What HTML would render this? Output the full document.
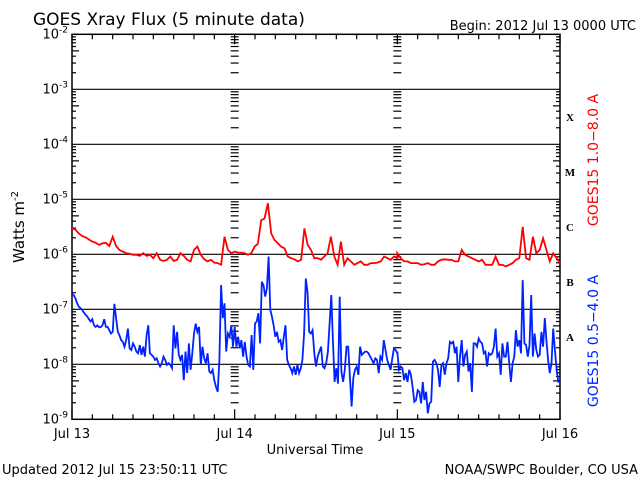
<!DOCTYPE html>
<html><head><meta charset="utf-8"><style>
body{margin:0;background:#fff}
svg{display:block;font-family:"DejaVu Sans","Liberation Sans",sans-serif}
</style></head><body>
<svg id="chart" width="640" height="480" viewBox="0 0 640 480" xmlns="http://www.w3.org/2000/svg">
<rect width="640" height="480" fill="#fff"/>
<text x="33" y="25" font-size="17" fill="#000">GOES Xray Flux (5 minute data)</text>
<text x="636" y="30" font-size="13" text-anchor="end" fill="#000">Begin:  2012 Jul 13 0000 UTC</text>
<text transform="translate(24,227) rotate(-90)" font-size="15" text-anchor="middle" fill="#000">Watts m<tspan dy="-6" font-size="10">-2</tspan></text>
<text x="315" y="454" font-size="13" text-anchor="middle" fill="#000">Universal Time</text>
<text x="2" y="474" font-size="13" fill="#000">Updated 2012 Jul 15 23:50:11 UTC</text>
<text x="638" y="474" font-size="13" text-anchor="end" fill="#000">NOAA/SWPC Boulder, CO USA</text>
<text transform="translate(598,160) rotate(-90)" font-size="14" text-anchor="middle" fill="#ff0000">GOES15 1.0−8.0 A</text>
<text transform="translate(598,341) rotate(-90)" font-size="14" text-anchor="middle" fill="#0022ff">GOES15 0.5−4.0 A</text>
<g id="grid"></g>
<g id="series"></g>
</svg>
<script>
const dayLabels=["Jul 13","Jul 14","Jul 15","Jul 16"];
const decades=[-2,-3,-4,-5,-6,-7,-8,-9];
const classLetters=["X","M","C","B","A"];
const classExps=[-4,-5,-6,-7,-8];
// log10 flux, each day's array spans 24 h evenly
const redDay1=[-5.53,-5.55,-5.62,-5.67,-5.69,-5.73,-5.77,-5.79,-5.83,-5.80,-5.79,-5.85,-5.68,-5.85,-5.92,-5.95,-5.98,-5.99,-6.01,-6.01,-6.03,-5.98,-6.03,-6.01,-6.07,-5.98,-6.10,-6.12,-6.10,-6.04,-6.12,-6.10,-5.98,-6.03,-6.10,-6.13,-5.92,-5.86,-6.01,-6.09,-6.13,-6.10,-6.15,-6.16,-6.19,-5.68,-5.92,-5.98,-5.95];
const redDay2=[-5.95,-5.97,-5.97,-5.98,-6.01,-5.98,-5.86,-5.81,-5.38,-5.35,-5.07,-5.62,-5.74,-5.80,-5.86,-5.89,-6.04,-6.07,-6.09,-6.13,-6.10,-5.53,-5.83,-5.92,-6.07,-6.07,-6.10,-6.04,-5.98,-5.68,-6.04,-6.19,-5.77,-6.19,-6.07,-6.13,-6.19,-6.16,-6.13,-6.19,-6.19,-6.16,-6.16,-6.15,-6.13,-6.04,-6.07,-6.10,-6.04,-6.07];
const redDay3=[-5.98,-6.07,-6.13,-6.13,-6.16,-6.16,-6.16,-6.19,-6.18,-6.16,-6.19,-6.19,-6.13,-6.10,-6.09,-6.10,-6.10,-6.13,-6.13,-5.92,-6.01,-6.04,-6.07,-6.10,-6.13,-6.10,-6.19,-6.19,-6.19,-6.04,-6.19,-6.19,-6.22,-6.19,-6.16,-6.10,-6.07,-5.50,-6.07,-6.10,-5.68,-5.98,-5.92,-5.71,-5.92,-6.13,-5.98,-6.07,-6.16];
const blueDay1=[-6.73,-6.74,-6.80,-6.89,-6.95,-6.98,-7.01,-7.06,-7.10,-7.13,-7.18,-7.22,-7.18,-7.29,-7.32,-7.29,-7.33,-7.32,-7.29,-7.18,-7.32,-7.32,-7.38,-7.44,-7.41,-6.90,-7.16,-7.41,-7.47,-7.56,-7.59,-7.68,-7.56,-7.35,-7.71,-7.74,-7.62,-7.68,-7.77,-7.80,-7.65,-7.83,-7.68,-7.86,-7.47,-7.29,-7.80,-7.83,-7.86,-7.92,-7.89,-7.98,-8.04,-7.98,-7.86,-7.92,-8.01,-7.98,-8.01,-8.07,-7.29,-7.71,-7.41,-7.83,-7.92,-7.83,-8.29,-7.77,-8.16,-7.62,-8.10,-7.80,-7.44,-7.26,-7.41,-7.32,-8.01,-7.68,-7.89,-7.98,-7.80,-8.13,-8.16,-8.10,-8.29,-8.41,-8.50,-7.92,-6.56,-7.16,-6.89,-7.77,-7.44,-7.50,-7.29,-7.68,-7.32];
const blueDay2=[-7.32,-7.68,-7.50,-7.71,-7.56,-7.86,-7.59,-7.86,-8.01,-8.04,-7.47,-8.10,-7.26,-7.22,-7.07,-7.62,-6.50,-6.56,-6.77,-6.62,-6.04,-7.01,-7.13,-7.29,-7.50,-7.41,-7.59,-7.56,-7.74,-7.50,-7.29,-7.92,-8.01,-8.07,-8.16,-8.04,-8.19,-8.01,-8.16,-8.07,-7.92,-7.44,-6.44,-6.68,-7.41,-7.44,-7.38,-7.80,-8.04,-7.86,-7.77,-7.68,-8.04,-8.07,-7.98,-7.77,-7.26,-6.74,-7.56,-8.32,-8.07,-8.35,-6.77,-8.13,-8.32,-8.10,-7.68,-7.68,-8.22,-8.77,-8.25,-8.10,-8.04,-8.19,-7.68,-7.83,-7.80,-7.77,-7.77,-7.80,-7.86,-7.92,-7.98,-7.89,-7.92,-8.16,-7.86,-7.92,-7.56,-7.74,-7.92,-8.01,-8.10,-7.89,-7.71,-7.74,-7.80];
const blueDay3=[-7.77,-8.10,-8.04,-8.07,-8.29,-8.16,-8.32,-8.10,-8.19,-8.41,-8.68,-8.65,-8.47,-8.50,-8.71,-8.32,-8.65,-8.50,-8.89,-8.71,-8.68,-7.95,-7.92,-7.98,-8.10,-8.41,-8.01,-7.98,-8.19,-7.98,-7.89,-7.59,-7.62,-7.59,-7.80,-7.68,-8.32,-7.86,-7.56,-8.04,-7.83,-7.77,-8.13,-7.98,-8.50,-7.62,-7.62,-7.68,-7.53,-7.59,-7.62,-7.80,-7.77,-8.04,-7.80,-7.83,-7.80,-7.68,-7.35,-7.86,-7.80,-8.19,-7.62,-7.86,-7.86,-7.59,-7.98,-8.32,-7.98,-7.86,-7.38,-7.68,-7.56,-7.80,-6.47,-7.62,-7.65,-7.86,-7.65,-6.74,-7.86,-7.44,-7.74,-7.86,-7.83,-7.41,-7.68,-7.16,-7.56,-7.92,-8.16,-7.98,-7.35,-7.74,-8.10,-8.32,-8.32];

const NS="http://www.w3.org/2000/svg";
const X0=72,X1=560,Y0=34.3,DEC=55;
const xs=h=>X0+(X1-X0)*h/72;
const ys=l=>Y0+(-2-l)*DEC;
const grid=document.getElementById('grid'),ser=document.getElementById('series');
function mk(tag,attrs,parent){const e=document.createElementNS(NS,tag);for(const k in attrs)e.setAttribute(k,attrs[k]);parent.appendChild(e);return e;}
function ln(x1,y1,x2,y2,p){return mk('line',{x1:x1,y1:y1,x2:x2,y2:y2,stroke:'#000','stroke-width':1.2},p);}
const fr=mk('rect',{x:X0,y:Y0,width:X1-X0,height:ys(-9)-Y0,fill:'none',stroke:'#000','stroke-width':1.5},grid);


decades.forEach(d=>{
  const y=ys(d);
  if(d<-2&&d>-9){const l=ln(X0,y,X1,y,grid);
    
    }
  const t=mk('text',{x:X0-4,y:y+4,'font-size':13,'text-anchor':'end',fill:'#000'},grid);
  
  
  t.innerHTML='10<tspan dy="-6" font-size="9">'+d+'</tspan>';
  if(d>-9){for(let m=2;m<=9;m++){const yy=y+DEC*(1-Math.log10(m));
    const w=m==5?7:4;
    ln(X0,yy,X0+w,yy,grid);ln(X1-w,yy,X1,yy,grid);
    [1,2].forEach(k=>{const xd=xs(24*k);ln(xd-4,yy,xd+4,yy,grid);});}}
});
for(let h=0;h<=72;h+=3){const x=xs(h),yb=ys(-9);const L=h%24==0?10:5;
  ln(x,yb,x,yb-L,grid);ln(x,Y0,x,Y0+L,grid);}
dayLabels.forEach((s,i)=>{const t=mk('text',{x:xs(24*i),y:438,'font-size':13,'text-anchor':'middle',fill:'#000'},grid);
  
  
  t.textContent=s;});
classLetters.forEach((c,i)=>{const t=mk('text',{x:570,y:ys(classExps[i]+1)+DEC/2+4,'font-size':11,'font-weight':'bold','font-family':'Liberation Serif,serif','text-anchor':'middle',fill:'#000'},grid);
  
  
  t.textContent=c;});
function series(days,color,name){
  let d='';let first=true;
  days.forEach((arr,di)=>{arr.forEach((v,i)=>{const h=di*24+24*i/(arr.length-1);
    d+=(first?'M':'L')+xs(h).toFixed(1)+' '+ys(v).toFixed(1);first=false;});});
  const p=mk('path',{d:d,fill:'none',stroke:color,'stroke-width':1.8,'stroke-linejoin':'miter'},ser);
  
  
}
series([redDay1,redDay2,redDay3],'#ff0000','long-channel-line');
series([blueDay1,blueDay2,blueDay3],'#0022ff','short-channel-line');
</script>
</body></html>
